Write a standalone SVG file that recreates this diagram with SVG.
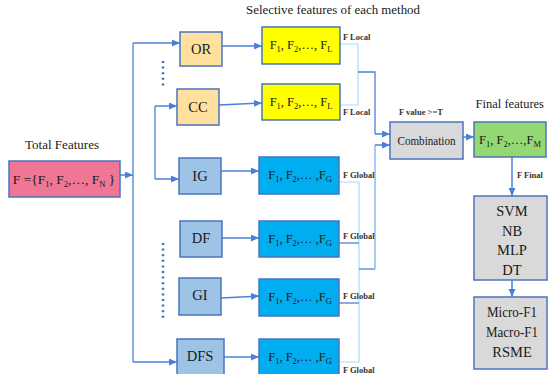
<svg xmlns="http://www.w3.org/2000/svg" width="548" height="374" viewBox="0 0 548 374">
<style>
text{font-family:"Liberation Serif","Times New Roman",serif;fill:#1a1a1a}
.box{stroke:#4A74BE;stroke-width:1.5}
.tan{fill:#FFE09E}
.lb{fill:#9DC3E6}
.yel{fill:#FFFF00}
.blu{fill:#00AEEF}
.gry{fill:#D9D9D9}
.t14{font-size:14.5px;text-anchor:middle}
.t13{font-size:13.5px;text-anchor:middle}
.t12{font-size:12.5px;text-anchor:middle}
.lbl{font-size:8.5px;font-weight:bold;fill:#333}
.arr{stroke:#4C80D8;stroke-width:1.5;fill:none;marker-end:url(#ah)}
.ln{stroke:#4C80D8;stroke-width:1.3;fill:none}
.lt{stroke:#A6DDF6;stroke-width:1.2;fill:none}
.dot{stroke:#3A6CC4;stroke-width:2.5;stroke-dasharray:2 3.6;fill:none}
.sub{font-size:8.5px}
</style>
<defs>
<marker id="ah" markerUnits="userSpaceOnUse" markerWidth="9" markerHeight="8" refX="8" refY="3.5" orient="auto">
<path d="M0,0 L8,3.5 L0,7 z" fill="#4C80D8"/>
</marker>
</defs>

<text x="333" y="14" class="t13" textLength="174" lengthAdjust="spacingAndGlyphs">Selective features of each method</text>
<text x="62" y="149" class="t13" textLength="74" lengthAdjust="spacingAndGlyphs">Total Features</text>
<text x="544" y="108" font-size="12.5" text-anchor="end">Final features</text>
<text x="421" y="115" class="lbl" text-anchor="middle">F value &gt;=T</text>

<g id="connectors">
<path class="arr" d="M120,175 H133"/>
<path class="ln" d="M133,43 V362"/>
<path class="arr" d="M133,43 H180"/>
<path class="arr" d="M133,362 H177"/>
<path class="ln" d="M155,106 V179"/>
<path class="arr" d="M155,106 H177"/>
<path class="arr" d="M155,179 H179"/>
<path class="dot" d="M163,61 V89"/>
<path class="dot" d="M163,243 V318"/>
<path class="arr" d="M222,46 H262"/>
<path class="arr" d="M219,105 L262,103"/>
<path class="arr" d="M221,171 H259"/>
<path class="arr" d="M222,238 H259"/>
<path class="arr" d="M221,298 L259,296"/>
<path class="arr" d="M224,357 H259"/>
<path class="lt" d="M339,44 H358 V105 H339"/>
<path class="ln" d="M358,72 H375 V134"/>
<path class="arr" d="M375,134 H390"/>
<path class="lt" d="M339,182 H359 V362 H339"/>
<path class="ln" d="M339,243 H359"/>
<path class="ln" d="M339,303 H359"/>
<path class="ln" d="M359,269 H375"/>
<path d="M375,269 V145" stroke="#9CC8F2" stroke-width="1.8" fill="none"/>
<path class="arr" d="M375,145 H390"/>
<path class="arr" d="M463,137 H474"/>
<path class="arr" d="M512,157 V196"/>
<path class="arr" d="M512,280 V297"/>
</g>

<text x="343" y="40" class="lbl">F Local</text>
<text x="343" y="115" class="lbl">F Local</text>
<text x="343" y="178" class="lbl">F Global</text>
<text x="343" y="239" class="lbl">F Global</text>
<text x="343" y="299" class="lbl">F Global</text>
<text x="343" y="373" class="lbl">F Global</text>
<text x="517" y="178" class="lbl">F Final</text>

<g id="total">
<rect x="9" y="161" width="111" height="36" fill="#F07696" class="box"/>
<text x="64" y="184" class="t13">F ={F<tspan class="sub" dy="3">1</tspan><tspan dy="-3">, F</tspan><tspan class="sub" dy="3">2</tspan><tspan dy="-3">,…, F</tspan><tspan class="sub" dy="3">N</tspan><tspan dy="-3"> }</tspan></text>
</g>

<g id="or"><rect x="180" y="32" width="42" height="34" class="box tan"/><text x="201" y="54" class="t14">OR</text></g>
<g id="cc"><rect x="177" y="89" width="42" height="36" class="box tan"/><text x="198" y="112" class="t14">CC</text></g>
<g id="ig"><rect x="179" y="158" width="42" height="36" class="box lb"/><text x="200" y="181" class="t14">IG</text></g>
<g id="df"><rect x="180" y="221" width="42" height="36" class="box lb"/><text x="201" y="243" class="t14">DF</text></g>
<g id="gi"><rect x="179" y="278" width="42" height="37" class="box lb"/><text x="200" y="300" class="t14">GI</text></g>
<g id="dfs"><rect x="177" y="339" width="47" height="36" class="box lb"/><text x="200" y="361" class="t14">DFS</text></g>

<g id="local1"><rect x="262" y="27" width="78" height="37" class="box yel"/>
<text x="301" y="49" class="t12">F<tspan class="sub" dy="3">1</tspan><tspan dy="-3">, F</tspan><tspan class="sub" dy="3">2</tspan><tspan dy="-3">,…, F</tspan><tspan class="sub" dy="3">L</tspan></text></g>
<g id="local2"><rect x="262" y="84" width="78" height="36" class="box yel"/>
<text x="301" y="106" class="t12">F<tspan class="sub" dy="3">1</tspan><tspan dy="-3">, F</tspan><tspan class="sub" dy="3">2</tspan><tspan dy="-3">,…, F</tspan><tspan class="sub" dy="3">L</tspan></text></g>

<g id="global1"><rect x="259" y="157" width="80" height="37" class="box blu"/>
<text x="300" y="179" class="t12">F<tspan class="sub" dy="3">1</tspan><tspan dy="-3">, F</tspan><tspan class="sub" dy="3">2</tspan><tspan dy="-3">,… ,F</tspan><tspan class="sub" dy="3">G</tspan></text></g>
<g id="global2"><rect x="259" y="221" width="80" height="36" class="box blu"/>
<text x="300" y="243" class="t12">F<tspan class="sub" dy="3">1</tspan><tspan dy="-3">, F</tspan><tspan class="sub" dy="3">2</tspan><tspan dy="-3">,… ,F</tspan><tspan class="sub" dy="3">G</tspan></text></g>
<g id="global3"><rect x="259" y="279" width="80" height="37" class="box blu"/>
<text x="300" y="301" class="t12">F<tspan class="sub" dy="3">1</tspan><tspan dy="-3">, F</tspan><tspan class="sub" dy="3">2</tspan><tspan dy="-3">,… ,F</tspan><tspan class="sub" dy="3">G</tspan></text></g>
<g id="global4"><rect x="259" y="339" width="80" height="36" class="box blu"/>
<text x="300" y="361" class="t12">F<tspan class="sub" dy="3">1</tspan><tspan dy="-3">, F</tspan><tspan class="sub" dy="3">2</tspan><tspan dy="-3">,… ,F</tspan><tspan class="sub" dy="3">G</tspan></text></g>

<g id="combination"><rect x="390" y="122" width="73" height="37" class="box gry"/>
<text x="426.5" y="145" class="t13" textLength="58" lengthAdjust="spacingAndGlyphs">Combination</text></g>

<g id="final"><rect x="474" y="122" width="72" height="35" fill="#93D872" class="box"/>
<text x="510" y="144" class="t12">F<tspan class="sub" dy="3">1</tspan><tspan dy="-3">, F</tspan><tspan class="sub" dy="3">2</tspan><tspan dy="-3">,…,F</tspan><tspan class="sub" dy="3">M</tspan></text></g>

<g id="classifiers"><rect x="474" y="196" width="73" height="84" class="box gry"/>
<text x="512" y="216" class="t14">SVM</text>
<text x="512" y="236" class="t14">NB</text>
<text x="512" y="255" class="t14">MLP</text>
<text x="512" y="275" class="t14">DT</text></g>

<g id="metrics"><rect x="474" y="297" width="73" height="72" class="box gry"/>
<text x="512" y="317" class="t14" textLength="50" lengthAdjust="spacingAndGlyphs">Micro-F1</text>
<text x="512" y="337" class="t14" textLength="52" lengthAdjust="spacingAndGlyphs">Macro-F1</text>
<text x="512" y="357" class="t14">RSME</text></g>
</svg>
